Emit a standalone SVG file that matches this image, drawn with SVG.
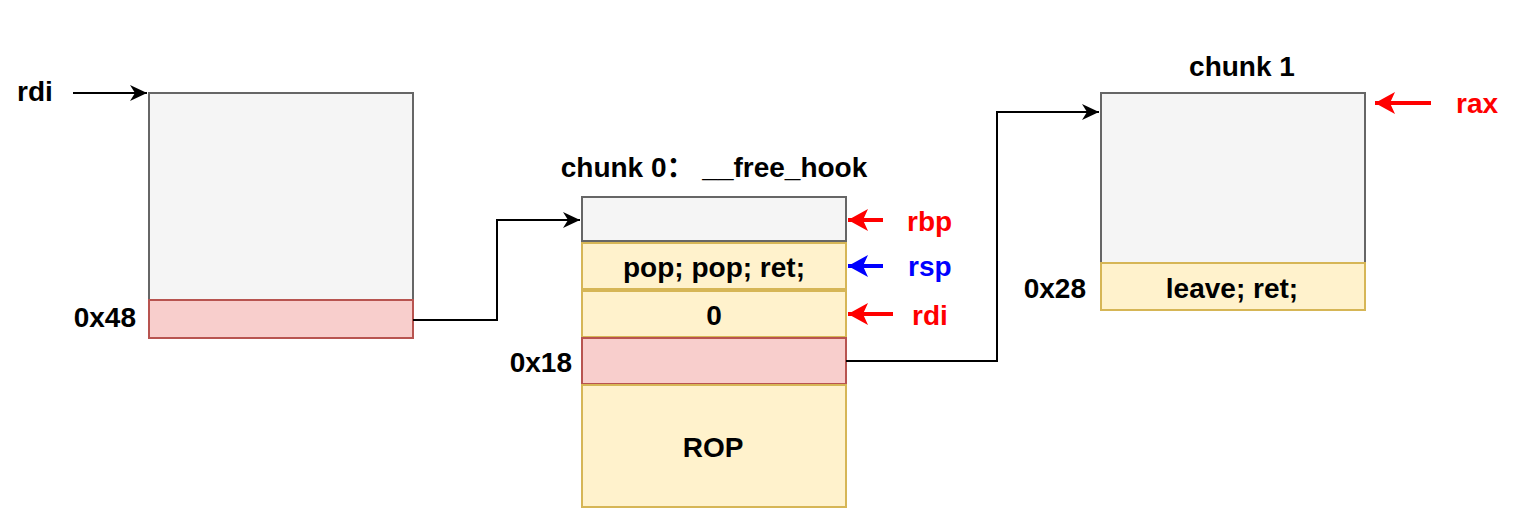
<svg xmlns="http://www.w3.org/2000/svg" width="1530" height="530" viewBox="0 0 1530 530">
<style>
text{font-family:"Liberation Sans","Noto Sans CJK SC",Arial,sans-serif;font-weight:bold;font-size:28px;fill:#000}
.g{fill:#f5f5f5;stroke:#666666;stroke-width:2}
.y{fill:#fff2cc;stroke:#d6b656;stroke-width:2}
.r{fill:#f8cecc;stroke:#b85450;stroke-width:2}
.c{text-anchor:middle}
.e{text-anchor:end}
.conn{fill:none;stroke:#000;stroke-width:2}
.red{fill:#ff0000}
.blue{fill:#0000ff}
</style>
<defs>
<marker id="ab" markerUnits="userSpaceOnUse" markerWidth="20" markerHeight="20" viewBox="-18 -10 20 20" refX="0" refY="0" orient="auto">
<path d="M0,0 L-17,-8 L-12,0 L-17,8 Z" fill="#000"/>
</marker>
<marker id="ar" markerUnits="userSpaceOnUse" markerWidth="26" markerHeight="26" viewBox="-22 -13 24 26" refX="0" refY="0" orient="auto">
<path d="M0,0 L-20,-11 L-15,0 L-20,11 Z" fill="#ff0000"/>
</marker>
<marker id="au" markerUnits="userSpaceOnUse" markerWidth="26" markerHeight="26" viewBox="-22 -13 24 26" refX="0" refY="0" orient="auto">
<path d="M0,0 L-20,-11 L-15,0 L-20,11 Z" fill="#0000ff"/>
</marker>
</defs>

<g id="left-chunk">
<rect class="g" x="149" y="93" width="264" height="207"/>
<rect class="r" x="149" y="300" width="264" height="38"/>
<text class="e" x="136" y="327">0x48</text>
</g>
<g id="rdi-label-left">
<text x="17" y="101">rdi</text>
</g>

<g id="chunk0">
<text class="c" x="714" y="177">chunk 0： __free_hook</text>
<rect class="g" x="582" y="197" width="264" height="44"/>
<rect class="y" x="582" y="243" width="264" height="46"/>
<text class="c" x="714" y="277">pop; pop; ret;</text>
<rect class="y" x="582" y="291" width="264" height="46"/>
<text class="c" x="714" y="325">0</text>
<rect class="r" x="582" y="338" width="264" height="46"/>
<text class="e" x="572" y="372">0x18</text>
<rect class="y" x="582" y="385" width="264" height="122"/>
<text class="c" x="713" y="457">ROP</text>
</g>

<g id="chunk1">
<text class="c" x="1242" y="76">chunk 1</text>
<rect class="g" x="1101" y="93" width="264" height="170"/>
<rect class="y" x="1101" y="263" width="264" height="47"/>
<text class="c" x="1232" y="298">leave; ret;</text>
<text class="e" x="1086" y="298">0x28</text>
</g>

<g id="register-labels">
<text class="red" x="907" y="231">rbp</text>
<text class="blue" x="908" y="276">rsp</text>
<text class="red" x="912" y="325">rdi</text>
<text class="red" x="1456" y="113">rax</text>
</g>

<g id="connectors">
<path class="conn" d="M73,93 H147" marker-end="url(#ab)"/>
<path class="conn" d="M413,320 H497 V220 H580" marker-end="url(#ab)"/>
<path class="conn" d="M846,361 H997 V112 H1099" marker-end="url(#ab)"/>
<path d="M883,220 H848" stroke="#ff0000" stroke-width="4" fill="none" marker-end="url(#ar)"/>
<path d="M883,266 H848" stroke="#0000ff" stroke-width="4" fill="none" marker-end="url(#au)"/>
<path d="M893,314 H848" stroke="#ff0000" stroke-width="4" fill="none" marker-end="url(#ar)"/>
<path d="M1431,103 H1375" stroke="#ff0000" stroke-width="4" fill="none" marker-end="url(#ar)"/>
</g>
</svg>
